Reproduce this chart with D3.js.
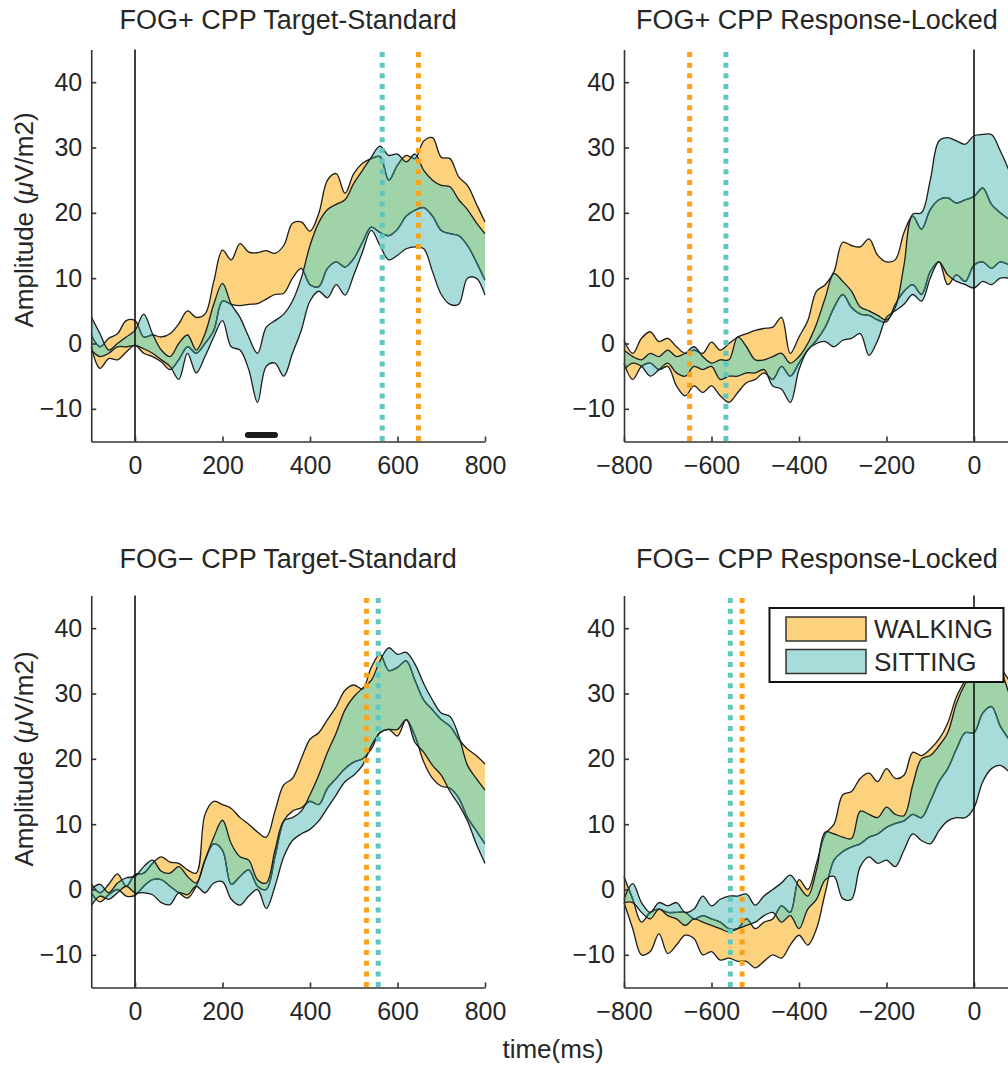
<!DOCTYPE html>
<html>
<head>
<meta charset="utf-8">
<script src="https://cdn.jsdelivr.net/npm/d3@7"></script>
<style>
  body { margin: 0; background: #fff; }
  svg { display: block; }
  text { font-family: "Liberation Sans", Arial, Helvetica, sans-serif; fill: #262626; }
</style>
</head>
<body>
<svg id="fig" width="1008" height="1067"></svg>
<script>
// ---- time bases (ms) ----
const timeStim = [-100,-80,-60,-40,-20,0,20,40,60,80,100,120,140,160,180,200,220,240,260,280,300,320,340,360,380,400,420,440,460,480,500,520,540,560,580,600,620,640,660,680,700,720,740,760,780,800];
const timeResp = [-800,-780,-760,-740,-720,-700,-680,-660,-640,-620,-600,-580,-560,-540,-520,-500,-480,-460,-440,-420,-400,-380,-360,-340,-320,-300,-280,-260,-240,-220,-200,-180,-160,-140,-120,-100,-80,-60,-40,-20,0,20,40,60,80];

// ---- FOG+ target-standard (uV/m2): upper / lower bounds of each band ----
const fogPlusStimWalkHi = [1.3,-0.5,0.8,1.5,3.5,3.5,1.0,1.3,1.0,1.5,3.0,5.0,4.0,4.5,9.5,14.3,12.8,15.3,14.0,13.9,14.2,13.8,15.0,18.4,18.6,17.2,19.9,25.0,26.0,23.0,26.0,27.6,28.3,28.6,25.0,27.3,28.8,28.3,31.0,31.5,28.5,28.3,25.5,24.2,21.4,18.6];
const fogPlusStimWalkLo = [-0.5,-3.8,-2.3,-2.5,-1.3,-0.3,-1.5,-2.0,-2.8,-4.0,-2.5,-0.5,-1.5,0.0,2.0,6.5,6.0,5.8,6.0,6.1,6.8,7.5,7.7,10.0,11.5,9.0,8.7,11.5,12.5,11.7,13.0,15.5,17.8,17.0,16.5,17.5,19.5,20.4,20.8,19.5,17.3,16.8,16.5,15.0,12.5,9.7];
const fogPlusStimSitHi  = [4.1,1.5,-1.0,0.0,1.0,2.0,4.5,1.5,-1.0,-2.0,0.0,1.3,-1.0,1.5,6.0,9.2,6.0,4.0,1.0,-1.5,2.5,3.5,4.5,6.5,10.0,15.0,18.5,20.5,21.3,22.0,24.5,26.5,28.5,30.2,28.8,29.0,27.8,29.0,26.5,25.0,24.2,24.0,22.0,20.5,18.5,16.8];
const fogPlusStimSitLo  = [-1.0,-2.0,-1.5,-0.5,-0.5,-0.3,-0.8,-1.5,-2.5,-3.5,-5.5,-1.5,-4.5,-2.0,1.0,3.5,-0.5,-1.0,-4.0,-9.0,-3.5,-3.0,-5.0,-1.5,2.0,6.5,8.0,7.0,9.0,7.4,10.5,14.0,17.3,15.0,12.8,13.5,14.5,14.8,14.5,11.0,7.5,6.0,6.0,10.0,10.0,7.4];

// ---- FOG+ response-locked ----
const fogPlusRespWalkHi = [0.5,-1.5,0.8,1.8,0.3,0.8,-0.5,-1.5,-1.0,-1.5,0.2,-1.0,0.0,1.0,1.5,2.0,2.3,2.5,4.0,-1.5,1.0,3.5,8.0,9.0,11.0,15.5,15.0,14.8,16.0,13.5,12.5,12.8,17.0,19.5,17.5,20.5,22.0,22.3,21.5,22.0,22.5,23.8,21.3,20.0,19.0];
const fogPlusRespWalkLo = [-3.0,-5.5,-3.5,-3.0,-4.0,-3.5,-6.5,-8.0,-6.5,-7.5,-6.5,-8.0,-9.0,-7.5,-6.0,-5.5,-4.5,-5.5,-3.5,-5.0,-3.0,-1.0,0.5,2.5,5.5,7.5,5.5,4.5,4.3,3.6,3.3,6.0,8.0,9.0,7.5,11.0,12.5,9.0,10.5,9.5,12.0,12.5,11.5,12.5,12.0];
const fogPlusRespSitHi  = [-1.0,-2.0,-2.5,-1.5,-2.0,-1.0,-2.0,-1.5,-0.5,-2.0,-3.0,-2.5,-2.5,1.0,-0.5,-2.5,-2.5,-2.0,-1.5,-3.0,-2.0,0.0,3.0,7.0,10.7,9.5,8.0,5.6,5.0,4.3,3.6,5.5,12.0,19.8,20.0,25.0,31.0,31.5,31.0,30.5,31.8,32.0,32.0,29.5,26.5];
const fogPlusRespSitLo  = [-4.0,-3.0,-3.5,-5.0,-4.0,-3.0,-4.5,-5.0,-3.5,-4.0,-3.5,-5.5,-5.0,-5.0,-4.5,-4.5,-4.0,-6.5,-7.0,-9.0,-4.0,-1.0,0.0,0.3,-0.5,0.5,0.8,1.5,-1.8,0.5,4.0,5.0,6.0,7.5,6.5,10.0,12.5,10.5,9.5,9.0,8.5,9.5,9.0,10.0,10.0];

// ---- FOG- target-standard ----
const fogMinusStimWalkHi = [0.9,-0.5,0.8,2.4,0.5,2.3,2.5,4.0,5.0,4.2,4.0,3.0,2.5,11.5,13.5,13.0,12.4,11.0,10.0,8.8,8.0,12.0,16.0,17.0,20.0,23.0,24.0,26.0,28.0,30.5,31.3,30.7,34.0,36.0,33.5,34.0,35.0,32.0,29.0,27.5,26.0,25.0,23.0,21.5,20.5,19.2];
const fogMinusStimWalkLo = [-0.5,-1.9,-0.8,0.0,-1.0,-0.9,0.5,1.5,1.5,0.5,-0.5,-1.3,0.5,4.5,7.0,6.0,0.8,2.0,3.0,0.5,0.0,5.0,10.5,12.0,12.5,13.5,13.0,15.5,17.0,18.5,19.5,20.0,21.5,24.0,24.5,23.5,26.0,23.5,19.5,17.0,15.8,15.5,14.0,11.0,9.0,7.0];
const fogMinusStimSitHi  = [0.0,0.8,-0.5,1.0,1.8,2.0,3.5,4.5,2.8,2.5,3.5,2.0,1.0,4.5,8.0,10.6,7.0,5.0,4.5,1.5,1.0,6.0,10.5,11.0,12.0,14.5,17.5,21.0,24.0,27.5,29.5,30.8,32.0,35.0,37.0,36.0,36.3,34.5,31.5,29.0,27.0,26.5,23.5,19.0,17.0,15.2];
const fogMinusStimSitLo  = [-2.5,-1.0,-1.5,-0.5,0.5,-0.5,-0.5,-0.8,-2.0,-2.3,-0.5,-0.8,0.5,-0.5,1.0,1.2,-1.5,-2.4,-1.0,0.0,-2.9,0.5,5.0,7.5,8.5,9.2,10.5,12.5,14.5,16.5,17.5,19.0,22.0,24.0,24.5,24.5,26.0,22.5,21.0,19.0,17.5,15.0,13.0,10.5,7.0,4.0];

// ---- FOG- response-locked ----
const fogMinusRespWalkHi = [2.0,-1.5,-5.0,-3.5,-3.0,-3.5,-3.5,-3.5,-4.5,-4.0,-4.5,-5.0,-6.0,-6.0,-4.5,-6.0,-5.0,-4.5,-2.5,-3.5,1.5,0.0,4.0,8.5,10.0,14.5,15.0,17.0,17.8,16.5,18.5,17.0,17.5,21.0,20.5,21.5,23.0,25.5,29.5,32.0,34.0,36.0,35.5,34.0,32.0];
const fogMinusRespWalkLo = [-2.0,-6.0,-10.0,-9.5,-6.8,-9.8,-8.5,-7.0,-7.5,-10.0,-9.5,-10.8,-10.5,-11.0,-11.0,-12.0,-11.0,-10.0,-10.5,-8.5,-7.0,-8.5,-6.0,-0.5,4.5,5.8,6.5,7.0,8.0,8.5,9.5,10.1,10.5,11.5,11.0,13.5,16.5,18.5,21.5,24.0,24.0,27.0,28.0,25.0,23.0];
const fogMinusRespSitHi  = [-1.5,0.9,-2.0,-3.5,-2.0,-2.5,-2.0,-3.5,-3.0,-1.0,-2.5,-1.5,-1.0,-1.0,-0.7,-2.4,-1.0,0.0,1.0,2.2,0.5,-1.0,3.0,8.8,8.5,8.0,7.8,12.0,11.5,11.0,12.6,11.5,11.3,16.0,20.0,20.5,22.0,24.0,28.5,31.5,33.5,35.5,35.0,33.5,30.0];
const fogMinusRespSitLo  = [-2.0,-2.0,-3.5,-4.5,-3.0,-4.0,-4.5,-5.5,-4.5,-5.0,-5.5,-6.0,-6.5,-6.0,-5.5,-5.0,-4.0,-3.5,-5.0,-4.0,-6.0,-3.0,-1.5,1.5,2.0,-1.4,-1.5,3.5,5.0,4.0,4.5,3.5,6.0,8.5,7.5,7.0,9.0,10.5,11.0,11.0,12.5,16.5,18.5,19.0,18.0];

// ---- axis ticks and labels ----
const xTicksStim = [0, 200, 400, 600, 800];
const xTicksResp = [-800, -600, -400, -200, 0];
const yTicks = [-10, 0, 10, 20, 30, 40];
const titles = ["FOG+ CPP Target-Standard", "FOG+ CPP Response-Locked", "FOG\u2212 CPP Target-Standard", "FOG\u2212 CPP Response-Locked"];
const legendLabels = ["WALKING", "SITTING"];

// ---- latency markers (ms): walking, sitting ----
const latencyWalk = [648, -650, 529, -530];
const latencySit  = [565, -567, 556, -557];
// significant-difference window (ms) in the FOG+ target-standard panel
const sigWindow = [258, 320];

// ---- styling ----
const C = {
  walk: "#fdd27e", sit: "#a8dcdb", both: "#a0d3a8",
  walkDot: "#f9a21b", sitDot: "#5ec8c0",
  edge: "#1c1c1c", edgeUnder: "#2c6862", axis: "#333333"
};
const PW = 393.75, PH = 392;

const svg = d3.select("#fig");
const defs = svg.append("defs");
const fmt = v => (v < 0 ? "\u2212" + Math.abs(v) : String(v));

const panels = [
  { t: timeStim, dom: [-100, 800], ticks: xTicksStim, left: 91.25, top: 49.5, titleY: 28.5, labelY: 220,
    wHi: fogPlusStimWalkHi, wLo: fogPlusStimWalkLo, sHi: fogPlusStimSitHi, sLo: fogPlusStimSitLo, sig: sigWindow },
  { t: timeResp, dom: [-800, 100], ticks: xTicksResp, left: 624, top: 49.5, titleY: 28.5,
    wHi: fogPlusRespWalkHi, wLo: fogPlusRespWalkLo, sHi: fogPlusRespSitHi, sLo: fogPlusRespSitLo },
  { t: timeStim, dom: [-100, 800], ticks: xTicksStim, left: 91.25, top: 595.5, titleY: 567.5, labelY: 759,
    wHi: fogMinusStimWalkHi, wLo: fogMinusStimWalkLo, sHi: fogMinusStimSitHi, sLo: fogMinusStimSitLo },
  { t: timeResp, dom: [-800, 100], ticks: xTicksResp, left: 624, top: 595.5, titleY: 567.5,
    wHi: fogMinusRespWalkHi, wLo: fogMinusRespWalkLo, sHi: fogMinusRespSitHi, sLo: fogMinusRespSitLo }
];

panels.forEach((p, i) => {
  const x = d3.scaleLinear().domain(p.dom).range([p.left, p.left + PW]);
  const y = d3.scaleLinear().domain([-15, 45]).range([p.top + PH, p.top]);
  const curve = d3.curveCatmullRom.alpha(0.5);
  const idx = d3.range(p.t.length);
  const band = (hi, lo) => d3.area().curve(curve)
      .x(j => x(p.t[j])).y0(j => y(lo[j])).y1(j => y(hi[j]))(idx);
  const edge = arr => d3.line().curve(curve).x(j => x(p.t[j])).y(j => y(arr[j]))(idx);

  const walkD = band(p.wHi, p.wLo), sitD = band(p.sHi, p.sLo);
  defs.append("clipPath").attr("id", "walkClip" + i).append("path").attr("d", walkD);
  defs.append("clipPath").attr("id", "sitClip" + i).append("path").attr("d", sitD);

  const g = svg.append("g");

  // bands
  g.append("path").attr("d", walkD).attr("fill", C.walk);
  g.append("path").attr("d", sitD).attr("fill", C.sit);
  g.append("g").attr("clip-path", `url(#walkClip${i})`)
    .append("path").attr("d", sitD).attr("fill", C.both);

  // band outlines (walking outline looks darker-teal where the sitting band covers it)
  [p.wHi, p.wLo].forEach(a => g.append("path").attr("d", edge(a))
    .attr("fill", "none").attr("stroke", C.edge).attr("stroke-width", 1.3));
  const under = g.append("g").attr("clip-path", `url(#sitClip${i})`);
  [p.wHi, p.wLo].forEach(a => under.append("path").attr("d", edge(a))
    .attr("fill", "none").attr("stroke", C.edgeUnder).attr("stroke-width", 1.4));
  [p.sHi, p.sLo].forEach(a => g.append("path").attr("d", edge(a))
    .attr("fill", "none").attr("stroke", C.edge).attr("stroke-width", 1.3));

  // latency markers
  [[latencyWalk[i], C.walkDot], [latencySit[i], C.sitDot]].forEach(([ms, col]) => {
    g.append("line").attr("x1", x(ms)).attr("x2", x(ms))
      .attr("y1", y(45) + 2.5).attr("y2", y(-15))
      .attr("stroke", col).attr("stroke-width", 5).attr("stroke-dasharray", "5 5.67");
  });

  // event onset
  g.append("line").attr("x1", x(0)).attr("x2", x(0)).attr("y1", y(45)).attr("y2", y(-15))
    .attr("stroke", "#111").attr("stroke-width", 1.6);

  if (p.sig) {
    g.append("line").attr("x1", x(p.sig[0])).attr("x2", x(p.sig[1]))
      .attr("y1", y(-14)).attr("y2", y(-14))
      .attr("stroke", "#1a1a1a").attr("stroke-width", 6).attr("stroke-linecap", "round");
  }

  // axes
  const ax = g.append("g").attr("transform", `translate(0,${p.top + PH})`)
    .call(d3.axisBottom(x).tickValues(p.ticks).tickFormat(fmt).tickSize(-5).tickSizeOuter(0).tickPadding(15));
  const ay = g.append("g").attr("transform", `translate(${p.left},0)`)
    .call(d3.axisLeft(y).tickValues(yTicks).tickFormat(fmt).tickSize(-5).tickSizeOuter(0).tickPadding(9));
  [ax, ay].forEach(a => {
    a.select(".domain").attr("stroke", C.axis).attr("stroke-width", 1.6);
    a.selectAll(".tick line").attr("stroke", C.axis).attr("stroke-width", 1.6);
    a.selectAll(".tick text").attr("font-size", 25).attr("fill", "#262626")
      .style("font-family", '"Liberation Sans", Arial, sans-serif');
  });

  // title
  svg.append("text").attr("x", p.left + PW / 2 - (i % 2 ? 4 : 0)).attr("y", p.titleY)
    .attr("text-anchor", "middle").attr("font-size", 27).text(titles[i]);

  // y label on left column
  if (p.labelY) {
    const yl = svg.append("text").attr("text-anchor", "middle").attr("font-size", 26)
      .attr("transform", `translate(33,${p.labelY}) rotate(-90)`);
    yl.append("tspan").text("Amplitude (");
    yl.append("tspan").attr("font-style", "italic").text("\u03bc");
    yl.append("tspan").text("V/m2)");
  }
});

// shared x label
svg.append("text").attr("x", 553).attr("y", 1058).attr("text-anchor", "middle")
  .attr("font-size", 26).text("time(ms)");

// legend
const lg = svg.append("g");
lg.append("rect").attr("x", 769.5).attr("y", 608).attr("width", 234).attr("height", 74)
  .attr("fill", "#fff").attr("stroke", "#111").attr("stroke-width", 2);
[C.walk, C.sit].forEach((col, k) => {
  lg.append("rect").attr("x", 786).attr("y", 617 + k * 32.5).attr("width", 80).attr("height", 24)
    .attr("fill", col).attr("stroke", "#333").attr("stroke-width", 1.5);
  lg.append("text").attr("x", 874).attr("y", 638 + k * 32.5).attr("font-size", 26).text(legendLabels[k]);
});
</script>
</body>
</html>
